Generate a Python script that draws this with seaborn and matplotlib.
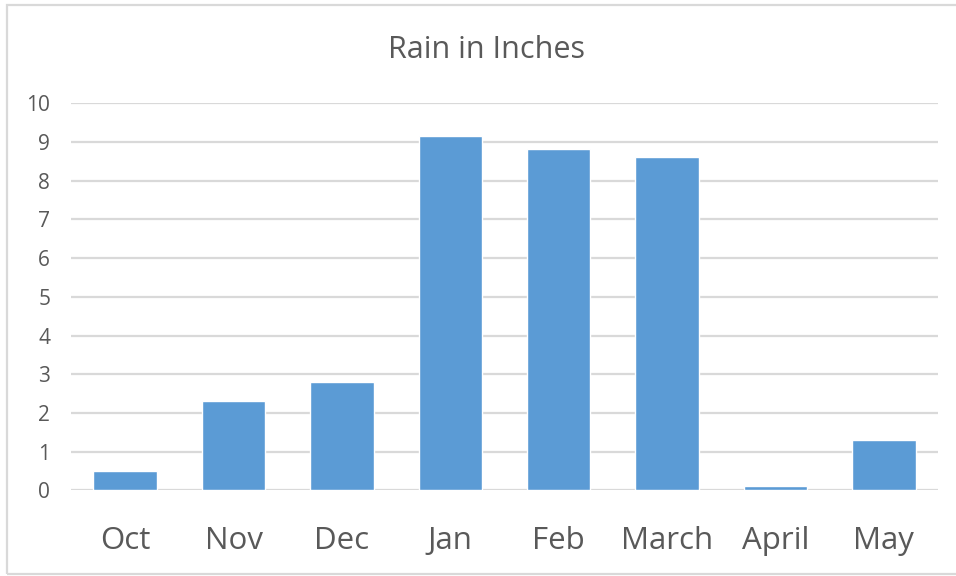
import matplotlib
matplotlib.use("Agg")
import matplotlib.pyplot as plt
import seaborn as sns
import pandas as pd
from matplotlib.patches import Rectangle

months = ["Oct", "Nov", "Dec", "Jan", "Feb", "March", "April", "May"]
rain = [0.5, 2.3, 2.8, 9.15, 8.83, 8.6, 0.1, 1.3]
y_ticks = [0, 1, 2, 3, 4, 5, 6, 7, 8, 9, 10]
title = "Rain in Inches"

sns.set_theme(style="white")
plt.rcParams["font.family"] = ["Open Sans", "DejaVu Sans"]

df = pd.DataFrame({"month": months, "rain": rain})

W, H = 956, 576
fig = plt.figure(figsize=(W / 100, H / 100), dpi=100)
ax = fig.add_axes([71 / W, (H - 490.3) / H, (938 - 71) / W, (490.3 - 103.3) / H])

sns.barplot(data=df, x="month", y="rain", color="#5B9BD5", saturation=1,
            width=0.585, ax=ax, zorder=3)
ax.set_xlim(-0.5, len(months) - 0.5)
ax.set_ylim(0, 10)
ax.set_yticks(y_ticks)
ax.set_yticklabels([str(v) for v in y_ticks])
ax.yaxis.grid(True, color="#D9D9D9", linewidth=1.6, zorder=0)
ax.xaxis.grid(False)
ax.set_axisbelow(True)
for s in ax.spines.values():
    s.set_visible(False)
ax.tick_params(axis="y", length=0, pad=15, labelsize=15, labelcolor="#595959")
ax.tick_params(axis="x", length=0, pad=26, labelsize=22.5, labelcolor="#595959")
ax.set_xlabel("")
ax.set_ylabel("")

fig.text(487 / W, (H - 50) / H, title, ha="center", va="center",
         fontsize=22, color="#595959")

# chart border
fig.patches.append(Rectangle((6.5 / W, (H - 573.5) / H), (W + 10) / W, (573.5 - 4.5) / H,
                             transform=fig.transFigure, fill=False,
                             edgecolor="#D9D9D9", linewidth=1.6, zorder=0))

fig.savefig("out.png", dpi=100)
